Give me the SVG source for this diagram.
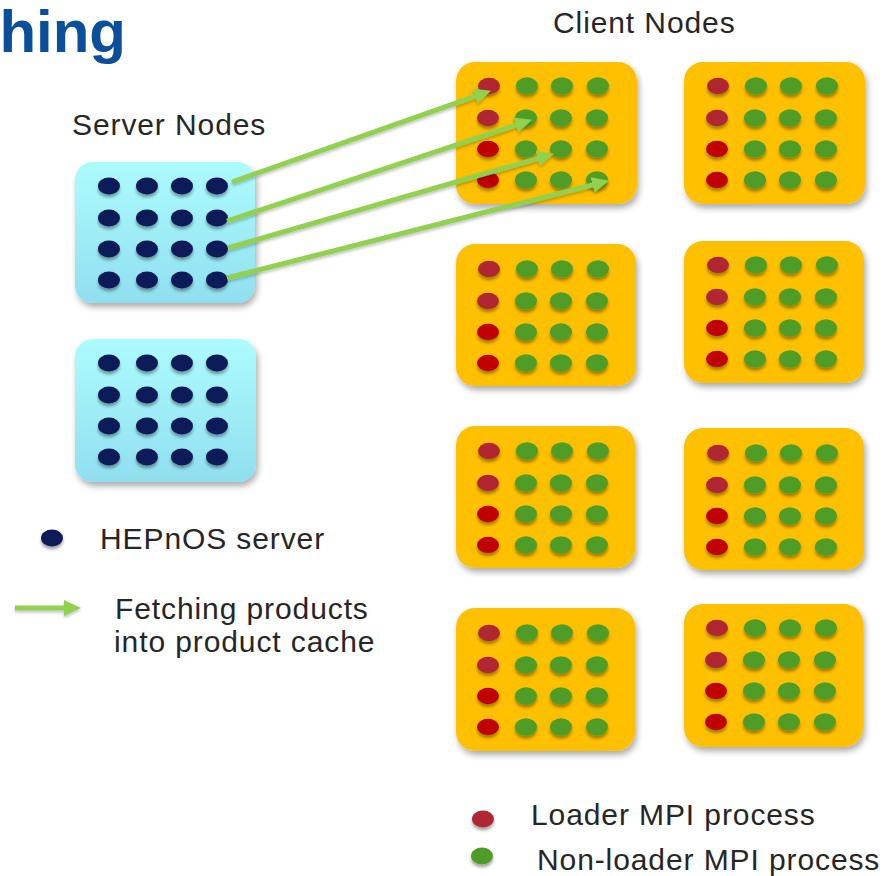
<svg xmlns="http://www.w3.org/2000/svg" xmlns:xlink="http://www.w3.org/1999/xlink" width="883" height="876" viewBox="0 0 883 876">
  <style>
    .label { font-family: "Liberation Sans", Arial, Helvetica, sans-serif; font-size: 30px; letter-spacing: 0.9px; fill: #262626; }
    .title { font-family: "Liberation Sans", Arial, Helvetica, sans-serif; font-size: 60px; font-weight: bold; fill: #0b4f9b; }
    .client-box { fill: #ffc000; filter: url(#boxShadow); }
    .server-box { fill: url(#serverFill); filter: url(#boxShadow); }
    .srv { fill: #0a1c58; filter: url(#dotShadow); }
    .ldA { fill: #b02832; filter: url(#dotShadow); }
    .ldB { fill: #c00000; filter: url(#dotShadow); }
    .nl { fill: #509d28; filter: url(#dotShadow); }
    .fetch { stroke: #92d050; stroke-width: 5; fill: none; marker-end: url(#arrowHead); }
  </style>
  <defs>
    <linearGradient id="serverFill" x1="0" y1="0" x2="0" y2="1">
      <stop offset="0" stop-color="#acfcfd"/>
      <stop offset="1" stop-color="#90dff0"/>
    </linearGradient>
    <filter id="boxShadow" x="-10%" y="-10%" width="125%" height="130%">
      <feDropShadow dx="2" dy="4" stdDeviation="3" flood-color="#000" flood-opacity="0.33"/>
    </filter>
    <filter id="dotShadow" x="-40%" y="-40%" width="180%" height="200%">
      <feDropShadow dx="0" dy="3" stdDeviation="1.6" flood-color="#000" flood-opacity="0.35"/>
    </filter>
    <filter id="arrowShadow" filterUnits="userSpaceOnUse" x="0" y="0" width="883" height="876">
      <feDropShadow dx="0" dy="2" stdDeviation="1.5" flood-color="#000" flood-opacity="0.25"/>
    </filter>
    <marker id="arrowHead" markerUnits="userSpaceOnUse" markerWidth="17" markerHeight="16" refX="6" refY="8" orient="auto">
      <path d="M0,0 L17,8 L0,16 z" fill="#92d050"/>
    </marker>

    <!-- 4x4 grid of server processes, relative to the box origin -->
    <g id="serverDots">
      <ellipse class="srv" cx="34" cy="24" rx="11" ry="8.5"/>
      <ellipse class="srv" cx="72" cy="24" rx="11" ry="8.5"/>
      <ellipse class="srv" cx="107" cy="24" rx="11" ry="8.5"/>
      <ellipse class="srv" cx="142" cy="24" rx="11" ry="8.5"/>
      <ellipse class="srv" cx="34" cy="56" rx="11" ry="8.5"/>
      <ellipse class="srv" cx="72" cy="56" rx="11" ry="8.5"/>
      <ellipse class="srv" cx="107" cy="56" rx="11" ry="8.5"/>
      <ellipse class="srv" cx="142" cy="56" rx="11" ry="8.5"/>
      <ellipse class="srv" cx="34" cy="87" rx="11" ry="8.5"/>
      <ellipse class="srv" cx="72" cy="87" rx="11" ry="8.5"/>
      <ellipse class="srv" cx="107" cy="87" rx="11" ry="8.5"/>
      <ellipse class="srv" cx="142" cy="87" rx="11" ry="8.5"/>
      <ellipse class="srv" cx="34" cy="118" rx="11" ry="8.5"/>
      <ellipse class="srv" cx="72" cy="118" rx="11" ry="8.5"/>
      <ellipse class="srv" cx="107" cy="118" rx="11" ry="8.5"/>
      <ellipse class="srv" cx="142" cy="118" rx="11" ry="8.5"/>
    </g>

    <!-- 4x4 grid of client MPI processes: first column loaders -->
    <g id="clientDots">
      <ellipse class="ldA" cx="33" cy="24" rx="11" ry="8.3"/>
      <ellipse class="nl" cx="71" cy="24" rx="11" ry="8.8"/>
      <ellipse class="nl" cx="106" cy="24" rx="11" ry="8.8"/>
      <ellipse class="nl" cx="142" cy="24" rx="11" ry="8.8"/>
      <ellipse class="ldA" cx="32" cy="56" rx="11" ry="8.3"/>
      <ellipse class="nl" cx="70" cy="56" rx="11" ry="8.8"/>
      <ellipse class="nl" cx="105" cy="56" rx="11" ry="8.8"/>
      <ellipse class="nl" cx="141" cy="56" rx="11" ry="8.8"/>
      <ellipse class="ldB" cx="32" cy="87" rx="11" ry="8.3"/>
      <ellipse class="nl" cx="70" cy="87" rx="11" ry="8.8"/>
      <ellipse class="nl" cx="105" cy="87" rx="11" ry="8.8"/>
      <ellipse class="nl" cx="141" cy="87" rx="11" ry="8.8"/>
      <ellipse class="ldB" cx="32" cy="118" rx="11" ry="8.3"/>
      <ellipse class="nl" cx="70" cy="118" rx="11" ry="8.8"/>
      <ellipse class="nl" cx="105" cy="118" rx="11" ry="8.8"/>
      <ellipse class="nl" cx="141" cy="118" rx="11" ry="8.8"/>
    </g>
  </defs>

  <rect width="883" height="876" fill="#ffffff"/>

  <!-- heading fragment -->
  <text class="title" x="126" y="52" text-anchor="end">hing</text>

  <text class="label" x="72" y="135">Server Nodes</text>
  <text class="label" x="553" y="33">Client Nodes</text>

  <!-- server nodes -->
  <g id="server1" transform="translate(75,162)">
    <rect class="server-box" width="180" height="141" rx="18"/>
    <use xlink:href="#serverDots"/>
  </g>
  <g id="server2" transform="translate(75,339)">
    <rect class="server-box" width="181" height="143" rx="18"/>
    <use xlink:href="#serverDots"/>
  </g>

  <!-- client nodes -->
  <g id="client1" transform="translate(456,62)">
    <rect class="client-box" width="181" height="142" rx="19"/>
    <use xlink:href="#clientDots"/>
  </g>
  <g id="client2" transform="translate(684,62)">
    <rect class="client-box" width="181" height="142" rx="19"/>
    <use xlink:href="#clientDots" transform="translate(1,0)"/>
  </g>
  <g id="client3" transform="translate(456,244)">
    <rect class="client-box" width="180" height="142" rx="19"/>
    <use xlink:href="#clientDots" transform="translate(0,1)"/>
  </g>
  <g id="client4" transform="translate(684,241)">
    <rect class="client-box" width="180" height="142" rx="19"/>
    <use xlink:href="#clientDots" transform="translate(1,0)"/>
  </g>
  <g id="client5" transform="translate(456,426)">
    <rect class="client-box" width="179" height="142" rx="19"/>
    <use xlink:href="#clientDots" transform="translate(0,1)"/>
  </g>
  <g id="client6" transform="translate(684,428)">
    <rect class="client-box" width="180" height="142" rx="19"/>
    <use xlink:href="#clientDots" transform="translate(1,1)"/>
  </g>
  <g id="client7" transform="translate(456,608)">
    <rect class="client-box" width="179" height="143" rx="19"/>
    <use xlink:href="#clientDots" transform="translate(0,1)"/>
  </g>
  <g id="client8" transform="translate(684,604)">
    <rect class="client-box" width="179" height="143" rx="19"/>
    <use xlink:href="#clientDots"/>
  </g>

  <!-- product fetches from server processes to client processes -->
  <g id="connectors" filter="url(#arrowShadow)">
    <line class="fetch" x1="232" y1="182" x2="480.6" y2="94.3"/>
    <line class="fetch" x1="227" y1="221" x2="521.5" y2="123.2"/>
    <line class="fetch" x1="228" y1="248" x2="543.4" y2="156.8"/>
    <line class="fetch" x1="227" y1="278" x2="598.3" y2="183.5"/>
  </g>

  <!-- legend -->
  <g id="legend">
    <ellipse class="srv" cx="52" cy="538" rx="11" ry="8.5"/>
    <text class="label" x="100" y="549">HEPnOS server</text>
    <g filter="url(#arrowShadow)">
      <line class="fetch" x1="15" y1="608" x2="70" y2="608"/>
    </g>
    <text class="label" x="115" y="619">Fetching products</text>
    <text class="label" x="114" y="652">into product cache</text>
    <ellipse class="ldA" cx="483" cy="819" rx="11" ry="8.5"/>
    <text class="label" x="531" y="825">Loader MPI process</text>
    <ellipse class="nl" cx="482" cy="856" rx="11" ry="8.5"/>
    <text class="label" x="537" y="870">Non-loader MPI process</text>
  </g>
</svg>
